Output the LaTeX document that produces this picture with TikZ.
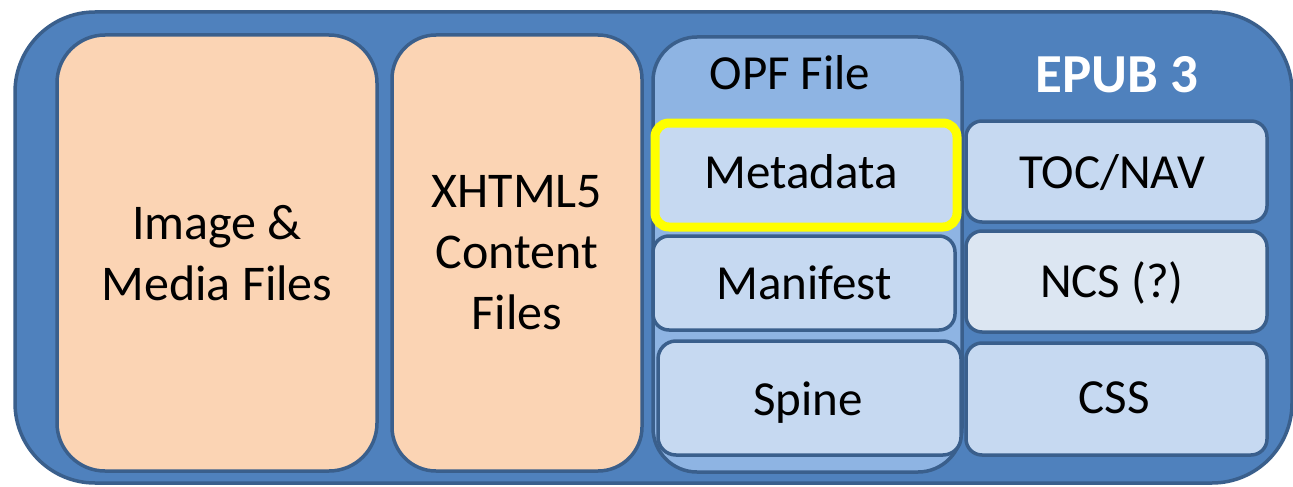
\documentclass[tikz,border=0pt]{standalone}
\usepackage{fontspec}
\setmainfont{Carlito}
\definecolor{outerblue}{HTML}{4F81BD}
\definecolor{edgeblue}{HTML}{3A5F8C}
\definecolor{opfblue}{HTML}{8EB4E3}
\definecolor{lightbox}{HTML}{C6D9F1}
\definecolor{paler}{HTML}{DCE6F2}
\definecolor{peach}{HTML}{FBD4B4}
\definecolor{hilite}{HTML}{FFFF00}
\begin{document}
\begin{tikzpicture}[x=1pt,y=-1pt,
  panel/.style={draw=edgeblue, line width=3.5pt, inner sep=0pt, outer sep=0pt, align=center,
     font=\fontsize{50}{61}\selectfont},
  filebox/.style={panel, fill=peach, rounded corners=48pt},
  itembox/.style={panel, fill=lightbox, rounded corners=16pt},
  lbl/.style={inner sep=0pt, font=\fontsize{49}{60}\selectfont}]
\fill[white] (0,0) rectangle (1293,487);
\useasboundingbox (0,0) rectangle (1293,487);
% outer EPUB container
\node[panel, fill=outerblue, rounded corners=80pt, minimum width=1277pt, minimum height=471pt] (epub) at (653.5,247.5) {};
\node[font=\fontsize{55}{60}\selectfont\bfseries, text=white, inner sep=0pt] (epubt) at (1117,75) {EPUB 3};
% files
\node[filebox, minimum width=320pt, minimum height=436pt] (media) at (217,253) {Image \&\\Media Files};
\node[filebox, rounded corners=44pt, minimum width=250pt, minimum height=436pt] (xhtml) at (517,253) {XHTML5\\Content\\Files};
% OPF file
\node[panel, fill=opfblue, rounded corners=44pt, minimum width=309pt, minimum height=435pt] (opf) at (807.5,254.5) {};
\node[lbl] (opft) at (790,73) {OPF File};
\node[itembox, rounded corners=18pt, minimum width=303pt, minimum height=114pt] (spine) at (809.5,398) {};
\node[lbl] at (808,403) {Spine};
\node[itembox, minimum width=302pt, minimum height=94pt] (manifest) at (804,283) {};
\node[lbl] at (manifest.center) {Manifest};
\node[itembox, draw=hilite, line width=9pt, rounded corners=14pt, minimum width=302pt, minimum height=104pt] (meta) at (806,175) {};
\node[lbl] at (801,172) {Metadata};
% right column
\node[itembox, minimum width=301pt, minimum height=101pt] (toc) at (1116.5,171.5) {};
\node[lbl] at (1112,173) {TOC/NAV};
\node[itembox, fill=paler, minimum width=301pt, minimum height=101pt] (ncs) at (1116.5,281.5) {};
\node[lbl] at (1112,283) {NCS (?)};
\node[itembox, minimum width=301pt, minimum height=112pt] (css) at (1116.5,399) {};
\node[lbl] at (1114,398) {CSS};
\end{tikzpicture}
\end{document}
